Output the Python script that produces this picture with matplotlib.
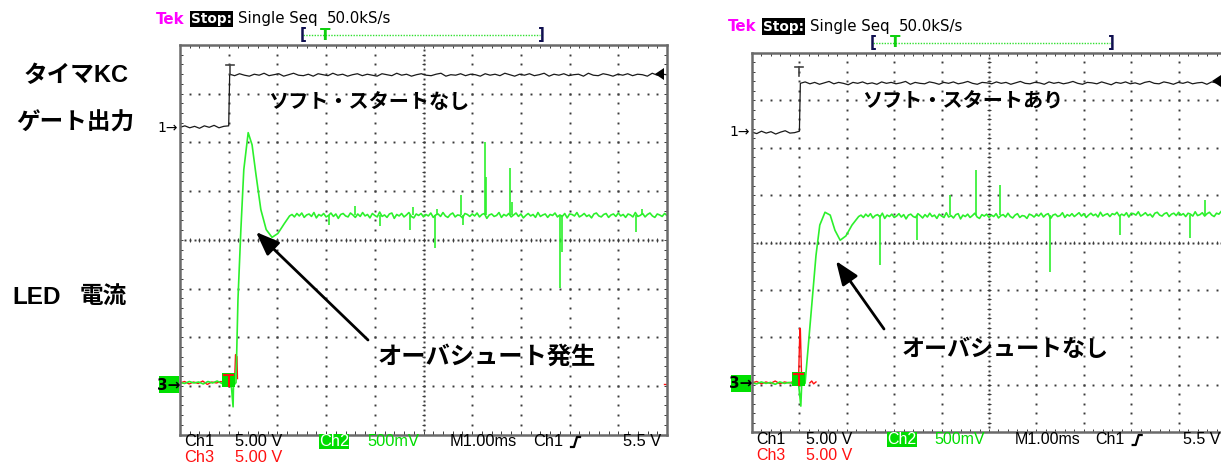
import matplotlib

matplotlib.use("Agg")
import matplotlib.pyplot as plt
import numpy as np
from matplotlib.patches import Rectangle

W, H = 1221, 463
JP = ["Liberation Sans", "Noto Sans CJK JP", "DejaVu Sans"]
GREEN = "#2cf02c"
RED = "#ff1010"
GRID = "#3a3a3a"

# units: x = time in divisions (1 ms/div), y = divisions from screen bottom
# ---- left screen: ソフト・スタートなし ----
L1_LOW = [6.31, 6.34, 6.30, 6.33, 6.29, 6.34, 6.31, 6.35, 6.30, 6.33, 6.34]   # t 0 .. 1.0
L1_HIGH = [7.40, 7.37, 7.41, 7.38, 7.36, 7.40, 7.38, 7.42, 7.37, 7.39,
           7.41, 7.36, 7.39, 7.42, 7.38, 7.37, 7.40, 7.36, 7.41, 7.39,
           7.37, 7.42, 7.38, 7.40, 7.36, 7.39, 7.41, 7.37, 7.40, 7.38,
           7.36, 7.41, 7.39, 7.37, 7.42, 7.38, 7.40, 7.36, 7.39, 7.41,
           7.38, 7.37, 7.40, 7.42, 7.36, 7.39, 7.38, 7.41, 7.37, 7.40,
           7.39, 7.36, 7.41, 7.38, 7.40, 7.37, 7.42, 7.39, 7.36, 7.40,
           7.38, 7.41, 7.37, 7.39, 7.42, 7.36, 7.40, 7.38, 7.41, 7.37,
           7.39, 7.40, 7.36, 7.42, 7.38, 7.37, 7.41, 7.39, 7.36, 7.40,
           7.38, 7.41, 7.37, 7.40, 7.39, 7.36, 7.42, 7.38, 7.40, 7.39]  # t 1.02 .. 10
L2_PRE = [1.07, 1.05, 1.09, 1.06, 1.08, 1.04, 1.09, 1.06, 1.10, 1.05, 1.08, 1.06]  # t 0 .. 1.05
L2_EDGE_T = [1.09, 1.10, 1.13, 1.15, 1.19, 1.25, 1.31, 1.40, 1.48, 1.56, 1.66, 1.77, 1.89, 2.01, 2.14, 2.25]
L2_EDGE_V = [0.57, 1.10, 1.04, 1.07, 2.77, 4.21, 5.44, 6.20, 5.95, 5.34, 4.62, 4.21, 4.05, 4.13, 4.33, 4.49]
L2_STEADY = [4.52, 4.47, 4.54, 4.49, 4.55, 4.46, 4.51, 4.53, 4.48, 4.56, 4.45, 4.52, 4.49, 4.54, 4.47,
             4.50, 4.55, 4.48, 4.53, 4.44, 4.52, 4.54, 4.49, 4.47, 4.55, 4.51, 4.46, 4.53, 4.48, 4.56,
             4.49, 4.52, 4.45, 4.54, 4.50, 4.47, 4.57, 4.48, 4.51, 4.46, 4.53, 4.55, 4.44, 4.52, 4.49,
             4.54, 4.47, 4.51, 4.56, 4.48, 4.45, 4.53, 4.50, 4.54, 4.47, 4.52, 4.49, 4.55, 4.46, 4.51,
             4.53, 4.48, 4.56, 4.49, 4.46, 4.52, 4.55, 4.47, 4.51, 4.50, 4.45, 4.54, 4.52, 4.48, 4.53,
             4.49, 4.55, 4.47, 4.52, 4.54, 4.44, 4.51, 4.53, 4.48, 4.50, 4.56, 4.46, 4.52, 4.49, 4.54,
             4.47, 4.51, 4.55, 4.48, 4.53, 4.45, 4.50, 4.54, 4.49, 4.52, 4.46, 4.56, 4.48, 4.51, 4.53,
             4.46, 4.52, 4.50, 4.55, 4.47, 4.51, 4.48, 4.54, 4.45, 4.53, 4.52, 4.49, 4.56, 4.47, 4.50,
             4.54, 4.48, 4.51, 4.45, 4.53, 4.55, 4.49, 4.47, 4.52, 4.54, 4.46, 4.51, 4.53, 4.48, 4.55,
             4.49, 4.52, 4.46, 4.53, 4.51, 4.47, 4.56, 4.48, 4.50, 4.54,
             4.47, 4.52, 4.55, 4.49, 4.46, 4.53, 4.51, 4.48, 4.54, 4.50]  # t 2.30 .. 10
L2_LEVEL = 4.50
L2_SPIKE_T = [3.05, 3.60, 4.10, 4.72, 4.78, 5.24, 5.28, 5.77, 5.82, 6.26, 6.29, 6.78, 6.82, 7.80, 7.84, 9.36, 9.49]
L2_SPIKE_V = [4.30, 4.70, 4.28, 4.21, 4.68, 3.84, 4.64, 4.93, 4.31, 6.00, 5.28, 5.48, 4.78, 3.02, 3.74, 4.15, 4.64]
L3_PRE = [1.06, 1.09, 1.04, 1.08, 1.05, 1.10, 1.03, 1.08, 1.06, 1.09, 1.05, 1.07, 1.05]  # t 0 .. 1.12
L3_EDGE_T = [1.14, 1.15, 1.17, 1.18]
L3_EDGE_V = [1.64, 1.62, 1.60, 1.15]

# ---- right screen: ソフト・スタートあり ----
R1_LOW = [6.33, 6.30, 6.35, 6.31, 6.34, 6.29, 6.33, 6.36, 6.31, 6.32, 6.35]
R1_HIGH = [7.36, 7.39, 7.35, 7.38, 7.34, 7.37, 7.40, 7.35, 7.38, 7.36,
           7.33, 7.38, 7.36, 7.39, 7.35, 7.37, 7.34, 7.39, 7.36, 7.38,
           7.35, 7.37, 7.40, 7.34, 7.38, 7.36, 7.35, 7.39, 7.37, 7.34,
           7.38, 7.36, 7.39, 7.35, 7.37, 7.40, 7.36, 7.34, 7.38, 7.37,
           7.35, 7.39, 7.36, 7.38, 7.34, 7.37, 7.40, 7.36, 7.35, 7.38,
           7.37, 7.34, 7.39, 7.36, 7.38, 7.35, 7.37, 7.40, 7.36, 7.34,
           7.38, 7.37, 7.35, 7.39, 7.36, 7.33, 7.38, 7.36, 7.39, 7.35,
           7.37, 7.34, 7.38, 7.40, 7.36, 7.35, 7.39, 7.37, 7.34, 7.38,
           7.36, 7.39, 7.35, 7.37, 7.38, 7.34, 7.39, 7.37, 7.40, 7.41]
R2_PRE = [1.04, 1.02, 1.06, 1.03, 1.05, 1.01, 1.06, 1.03, 1.05, 1.02, 1.04]  # t 0 .. 0.98
R2_EDGE_T = [1.03, 1.05, 1.08, 1.12, 1.18, 1.27, 1.35, 1.43, 1.54, 1.65, 1.75, 1.86, 1.98, 2.11, 2.25]
R2_EDGE_V = [0.55, 1.06, 1.01, 1.03, 1.73, 2.78, 3.73, 4.37, 4.64, 4.58, 4.26, 4.05, 4.14, 4.37, 4.55]
R2_STEADY = [4.58, 4.53, 4.60, 4.55, 4.61, 4.52, 4.57, 4.59, 4.54, 4.62, 4.51, 4.58, 4.55, 4.60, 4.53,
             4.56, 4.61, 4.54, 4.59, 4.50, 4.58, 4.60, 4.55, 4.53, 4.61, 4.57, 4.52, 4.59, 4.54, 4.62,
             4.55, 4.58, 4.51, 4.60, 4.56, 4.53, 4.63, 4.54, 4.57, 4.52, 4.59, 4.61, 4.50, 4.58, 4.55,
             4.60, 4.53, 4.57, 4.62, 4.54, 4.51, 4.59, 4.56, 4.60, 4.53, 4.58, 4.55, 4.61, 4.52, 4.57,
             4.59, 4.54, 4.62, 4.55, 4.52, 4.58, 4.61, 4.53, 4.57, 4.56, 4.51, 4.60, 4.58, 4.54, 4.59,
             4.56, 4.62, 4.54, 4.59, 4.61, 4.51, 4.58, 4.60, 4.55, 4.57, 4.63, 4.53, 4.59, 4.56, 4.61,
             4.55, 4.59, 4.63, 4.56, 4.61, 4.53, 4.58, 4.62, 4.57, 4.60, 4.54, 4.64, 4.56, 4.59, 4.61,
             4.55, 4.61, 4.59, 4.64, 4.56, 4.60, 4.57, 4.63, 4.54, 4.62, 4.61, 4.58, 4.65, 4.56, 4.59,
             4.63, 4.57, 4.60, 4.54, 4.62, 4.64, 4.58, 4.56, 4.61, 4.63, 4.55, 4.60, 4.62, 4.57, 4.64,
             4.58, 4.61, 4.55, 4.62, 4.60, 4.56, 4.65, 4.57, 4.59, 4.63,
             4.56, 4.61, 4.64, 4.58, 4.55, 4.62, 4.60, 4.66]  # t 2.30 .. 9.90
R2_LEVEL = 4.58
R2_SPIKE_T = [2.70, 3.48, 4.18, 4.73, 5.23, 6.29, 7.76, 9.24, 9.56]
R2_SPIKE_V = [3.52, 4.05, 5.00, 5.53, 5.21, 3.38, 4.16, 4.09, 4.90]
R3_PRE = [1.04, 1.07, 1.02, 1.06, 1.03, 1.08, 1.02, 1.06, 1.04, 1.07, 1.03]  # t 0 .. 0.98
R3_EDGE_T = [1.01, 1.02, 1.04, 1.05]
R3_EDGE_V = [2.19, 2.17, 1.40, 1.05]
R3_TAIL_T = [1.22, 1.26, 1.30, 1.35]
R3_TAIL_V = [1.04, 1.08, 1.02, 1.06]


def t_axis(values, start, stop):
    return np.linspace(start, stop, len(values))


def graticule(ax):
    mx = np.arange(0.2, 10, 0.2)
    my = np.arange(0.2, 8, 0.2)
    dot = dict(ls="none", marker="s", ms=1.4, mew=0, color=GRID)
    for k in range(1, 10):
        if k != 5:
            ax.plot(np.full_like(my, k), my, **dot)
    for k in range(1, 8):
        if k != 4:
            ax.plot(mx, np.full_like(mx, k), **dot)
    tk = dict(color=GRID, lw=0.7)
    ax.plot(np.arange(0.1, 10, 0.1), np.full(99, 4.0), **dot)
    ax.plot(np.full(79, 5.0), np.arange(0.1, 8, 0.1), **dot)
    ax.vlines(mx, 4 - 0.04, 4 + 0.04, **tk)
    ax.hlines(my, 5 - 0.04, 5 + 0.04, **tk)
    ax.vlines(mx, 0, 0.07, **tk)
    ax.vlines(mx, 8 - 0.07, 8, **tk)
    ax.hlines(my, 0, 0.07, **tk)
    ax.hlines(my, 10 - 0.07, 10, **tk)


def screen(fig, x0, top, div, ch1, ch2, spikes, level, ch3):
    ax = fig.add_axes([x0 / W, 1 - (top + 8 * div) / H, 10 * div / W, 8 * div / H])
    ax.set_xlim(0, 10)
    ax.set_ylim(0, 8)
    ax.set_xticks([])
    ax.set_yticks([])
    for s in ax.spines.values():
        s.set_color("#6a6a6a")
        s.set_linewidth(1.8)
    graticule(ax)
    for t, v in ch3:
        ax.plot(t, v, color=RED, lw=1.0)
    for t, v in ch2:
        ax.plot(t, v, color=GREEN, lw=1.2)
    ax.vlines(spikes[0], level, spikes[1], color=GREEN, lw=1.2)
    for t, v in ch1:
        ax.plot(t, v, color="#1a1a1a", lw=0.9)
    return ax


fig = plt.figure(figsize=(W / 100, H / 100), dpi=100)

# left screen
screen(fig, 180, 45, 48.7,
       [(np.r_[t_axis(L1_LOW, 0, 1.0), t_axis(L1_HIGH, 1.02, 10.0)], np.r_[L1_LOW, L1_HIGH])],
       [(np.r_[t_axis(L2_PRE, 0, 1.05), L2_EDGE_T, t_axis(L2_STEADY, 2.30, 10.0)],
         np.r_[L2_PRE, L2_EDGE_V, L2_STEADY])],
       (L2_SPIKE_T, L2_SPIKE_V), L2_LEVEL,
       [(np.r_[t_axis(L3_PRE, 0, 1.12), L3_EDGE_T], np.r_[L3_PRE, L3_EDGE_V]),
        ([9.93, 10.0], [1.03, 1.03])])

# right screen (cut off at the image edge)
screen(fig, 752, 53, 47.4,
       [(np.r_[t_axis(R1_LOW, 0, 1.0), t_axis(R1_HIGH, 1.02, 10.0)], np.r_[R1_LOW, R1_HIGH])],
       [(np.r_[t_axis(R2_PRE, 0, 0.98), R2_EDGE_T, t_axis(R2_STEADY, 2.30, 9.90)],
         np.r_[R2_PRE, R2_EDGE_V, R2_STEADY])],
       (R2_SPIKE_T, R2_SPIKE_V), R2_LEVEL,
       [(np.r_[t_axis(R3_PRE, 0, 0.98), R3_EDGE_T], np.r_[R3_PRE, R3_EDGE_V]),
        (R3_TAIL_T, R3_TAIL_V)])

# overlay in pixel coordinates for all the scope/annotation text
ov = fig.add_axes([0, 0, 1, 1])
ov.set_xlim(0, W)
ov.set_ylim(H, 0)
ov.axis("off")
ov.patch.set_alpha(0)

mono = dict(family="DejaVu Sans", fontsize=10.8, va="center", ha="left")
for x, y, bx in [(156, 19, 300), (728, 26.5, 870)]:
    ov.text(x, y, "Tek", color="#ff00ff", fontweight="bold", **mono)
    ov.text(x + 35, y, "Stop:", color="white", fontweight="bold", family="DejaVu Sans",
            fontsize=9.8, va="center", ha="left",
            bbox=dict(boxstyle="square,pad=0.1", fc="black", ec="none"))
    ov.text(x + 82, y, "Single Seq", color="black", **mono)
    ov.text(x + 171, y, "50.0kS/s", color="black", **mono)
    by = y + 16
    ov.plot([bx + 3, bx + 240], [by, by], color="#30e030", lw=1, ls=(0, (1, 1)))
    ov.text(bx, by, "[", color="#101050", fontsize=11, va="center", ha="left", fontweight="bold")
    ov.text(bx + 238, by, "]", color="#101050", fontsize=11, va="center", ha="left", fontweight="bold")
    ov.text(bx + 25, by, "T", color="#10d010", fontsize=11, fontweight="bold",
            va="center", ha="center")

for x, y, s in [(184, 442, 1.0), (756, 440, 47.4 / 48.7)]:
    lab = dict(family="Liberation Sans", fontsize=11.8 * s, va="center", ha="left")
    ov.text(x, y, "Ch1", color="black", **lab)
    ov.text(x + 51 * s, y, "5.00 V", color="black", **lab)
    ov.add_patch(Rectangle((x + 135 * s, y - 8), 30 * s, 15, fc="#00dd00", ec="none"))
    ov.text(x + 150 * s, y, "Ch2", color="white", family="Liberation Sans", fontsize=11.8 * s,
            va="center", ha="center")
    ov.text(x + 183 * s, y, "500mV", color="#00dd00", **lab)
    ov.text(x + 266 * s, y, "M1.00ms", color="black", **lab)
    ov.text(x + 349 * s, y, "Ch1", color="black", **lab)
    ex = x + 387 * s
    ov.plot([ex, ex + 3, ex + 6, ex + 9], [y + 5, y + 5, y - 5, y - 5], color="black", lw=1.6)
    ov.text(min(x + 477 * s, W - 1), y, "5.5 V", color="black",
            family="Liberation Sans", fontsize=11.8 * s, va="center", ha="right")
    ov.text(x, y + 15, "Ch3", color=RED, **lab)
    ov.text(x + 51 * s, y + 15, "5.00 V", color=RED, **lab)

# channel markers
for x, y1, y3, xt, yt, tt in [(180, 128, 385, 230, 65, 229), (752, 132, 384, 799, 67, 799)]:
    ov.text(x - 2, y1, "1→", color="black", family="DejaVu Sans", fontsize=10, va="center", ha="right")
    ov.add_patch(Rectangle((x - 21, y3 - 9), 20, 17, fc="#00e000", ec="none"))
    ov.text(x - 11, y3, "3→", color="black", family="DejaVu Sans", fontsize=11,
            fontweight="bold", va="center", ha="center")
    ov.plot([xt - 4, xt + 4], [yt, yt], color="#444444", lw=1.2)
    ov.plot([xt, xt], [yt, yt + 9], color="#444444", lw=1.2)
    ov.add_patch(Rectangle((tt - 7, y3 - 12), 13, 14, fc="#00e000", ec="none"))
    ov.plot([tt - 5, tt + 4], [y3 - 10, y3 - 10], color=RED, lw=1.5)
    ov.plot([tt, tt], [y3 - 10, y3 + 1], color=RED, lw=1.5)

# trigger level arrows on the right edges
ov.add_patch(plt.Polygon([[655, 74], [664, 68], [664, 80]], closed=True, fc="black", ec="none"))
ov.add_patch(plt.Polygon([[1212, 81], [1221, 75], [1221, 87]], closed=True, fc="black", ec="none"))

# annotations
big = dict(family=JP, fontweight="bold", color="black", va="center")
ov.text(76, 75, "タイマKC", fontsize=17, ha="center", **big)
ov.text(75, 123, "ゲート出力", fontsize=17, ha="center", **big)
ov.text(12, 297, "LED", fontsize=17.5, ha="left", **big)
ov.text(80, 297, "電流", fontsize=17, ha="left", **big)
ov.text(268, 102, "ソフト・スタートなし", fontsize=14.5, ha="left", **big)
ov.text(862, 102, "ソフト・スタートあり", fontsize=14.5, ha="left", **big)
ov.text(378, 357, "オーバシュート発生", fontsize=17.5, ha="left", **big)
ov.text(902, 350, "オーバシュートなし", fontsize=16.6, ha="left", **big)

arrow = dict(arrowstyle="-|>,head_length=0.9,head_width=0.35", color="black", lw=2,
             shrinkA=0, shrinkB=0, mutation_scale=16)
ov.annotate("", xy=(256, 232), xytext=(368, 340), arrowprops=arrow)
ov.annotate("", xy=(836, 261), xytext=(884, 329), arrowprops=arrow)

fig.savefig("out.png", dpi=100)
